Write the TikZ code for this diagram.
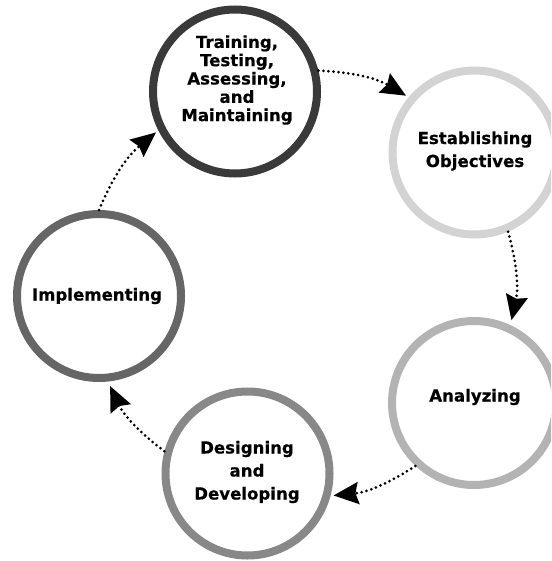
\documentclass[tikz,border=0pt]{standalone}
\usepackage{fontspec}
\setmainfont{DejaVu Sans}[BoldFeatures={FakeBold=0.4}]
\usetikzlibrary{arrows.meta}
\definecolor{ringA}{HTML}{3A3A3A}
\definecolor{ringB}{HTML}{D3D3D3}
\definecolor{ringC}{HTML}{B3B3B3}
\definecolor{ringD}{HTML}{888888}
\definecolor{ringE}{HTML}{666666}
\begin{document}
\begin{tikzpicture}[x=1pt,y=-1pt,
  ring/.style={circle, draw, line width=8pt, minimum size=164pt, inner sep=0pt, fill=white},
  lbl/.style={align=center, font=\fontsize{16.6}{23}\selectfont\bfseries, inner sep=0pt},
  lbltight/.style={align=center, font=\fontsize{16.6}{18.3}\selectfont\bfseries, inner sep=0pt},
  flow/.style={line width=3pt, line cap=round, dash pattern=on 0pt off 5pt,
    -{Stealth[length=25pt,width=22pt,inset=3pt]}, bend left=14}]
\useasboundingbox (0,0) rectangle (551,561);
\clip (0,0) rectangle (551,561);
\node[ring, draw=ringA] (c1) at (235,91.5) {};
\node[ring, draw=ringB] (c2) at (474.5,152.5) {};
\node[ring, draw=ringC] (c3) at (474,403) {};
\node[ring, draw=ringD] (c4) at (247.5,473.5) {};
\node[ring, draw=ringE] (c5) at (99,296) {};
\node[lbltight] (t1) at (237,80) {Training,\\Testing,\\Assessing,\\and\\Maintaining};
\node[lbl] (t2) at (475,151) {Establishing\\Objectives};
\node[lbl] (t3) at (475,397) {Analyzing};
\node[lbl] (t4) at (247,472) {Designing\\and\\Developing};
\node[lbl] (t5) at (97,296) {Implementing};
\draw[flow, shorten >=3pt] (c1.14) to (c2.140);
\draw[flow, shorten >=5pt] (c2.-67) to (c3.65);
\draw[flow, shorten >=3pt] (c3.-133) to (c4.-15);
\draw[flow, shorten >=5pt] (c4.165) to (c5.-84);
\draw[flow, shorten >=3pt] (c5.90) to (c1.-153);
\end{tikzpicture}
\end{document}
